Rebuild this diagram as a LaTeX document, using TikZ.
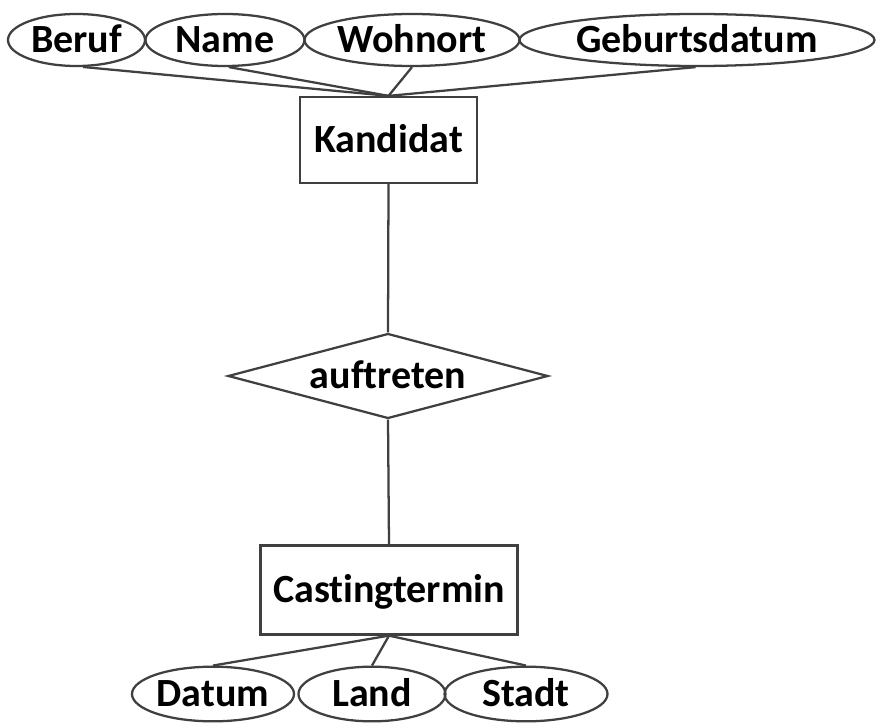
\documentclass[tikz,border=0pt]{standalone}
\usepackage{fontspec}
\setmainfont{Carlito}[Ligatures=NoCommon]
\usetikzlibrary{shapes.geometric}

\begin{document}
\begin{tikzpicture}[x=0.75pt,y=0.75pt,yscale=-1,xscale=1,
  every node/.style={font=\fontsize{30}{36}\selectfont\bfseries, inner sep=0pt,
    text height=19.4pt, text depth=0pt},
  attr/.style={draw=black!75, line width=1.7pt, ellipse, minimum height=39pt},
  entity/.style={draw=black!75, line width=1.7pt, rectangle},
  rel/.style={draw=black!75, line width=1.7pt, diamond, aspect=3.76},
  conn/.style={draw=black!75, line width=1.7pt}]
\useasboundingbox (0,0) rectangle (878,727);

%Entities
\node [entity, minimum width=132.75pt, minimum height=64.5pt] (kandidat) at (388.5,140) {Kandidat};
\node [entity, minimum width=192.75pt, minimum height=66.75pt] (casting) at (389,590) {Castingtermin};
%Relationship
\node [rel, minimum width=240pt, minimum height=63.75pt] (auftreten) at (388,376) {auftreten};

%Attributes of Kandidat
\node [attr, minimum width=102.75pt] (beruf) at (76.5,40) {Beruf};
\node [attr, minimum width=119.25pt] (name) at (225,40) {Name};
\node [attr, minimum width=161.25pt] (wohnort) at (412,40) {Wohnort};
\node [attr, minimum width=266.25pt] (geburt) at (697,40) {Geburtsdatum};
%Attributes of Castingtermin
\node [attr, minimum width=121.5pt, minimum height=41pt] (datum) at (213,694) {Datum};
\node [attr, minimum width=110.25pt, minimum height=41pt] (land) at (372,694) {Land};
\node [attr, minimum width=122.25pt, minimum height=41pt] (stadt) at (526,694) {Stadt};

%Connectors
\draw [conn] (beruf.-76) -- (kandidat.north);
\draw [conn] (name.-82) -- (kandidat.north);
\draw [conn] (wohnort.south) -- (kandidat.north);
\draw [conn] (geburt.-93) -- (kandidat.north);
\draw [conn] (kandidat.south) -- (auftreten.north);
\draw [conn] (auftreten.south) -- (casting.north);
\draw [conn] (casting.south) -- (datum.north);
\draw [conn] (casting.south) -- (land.north);
\draw [conn] (casting.south) -- (stadt.north);

\end{tikzpicture}
\end{document}
